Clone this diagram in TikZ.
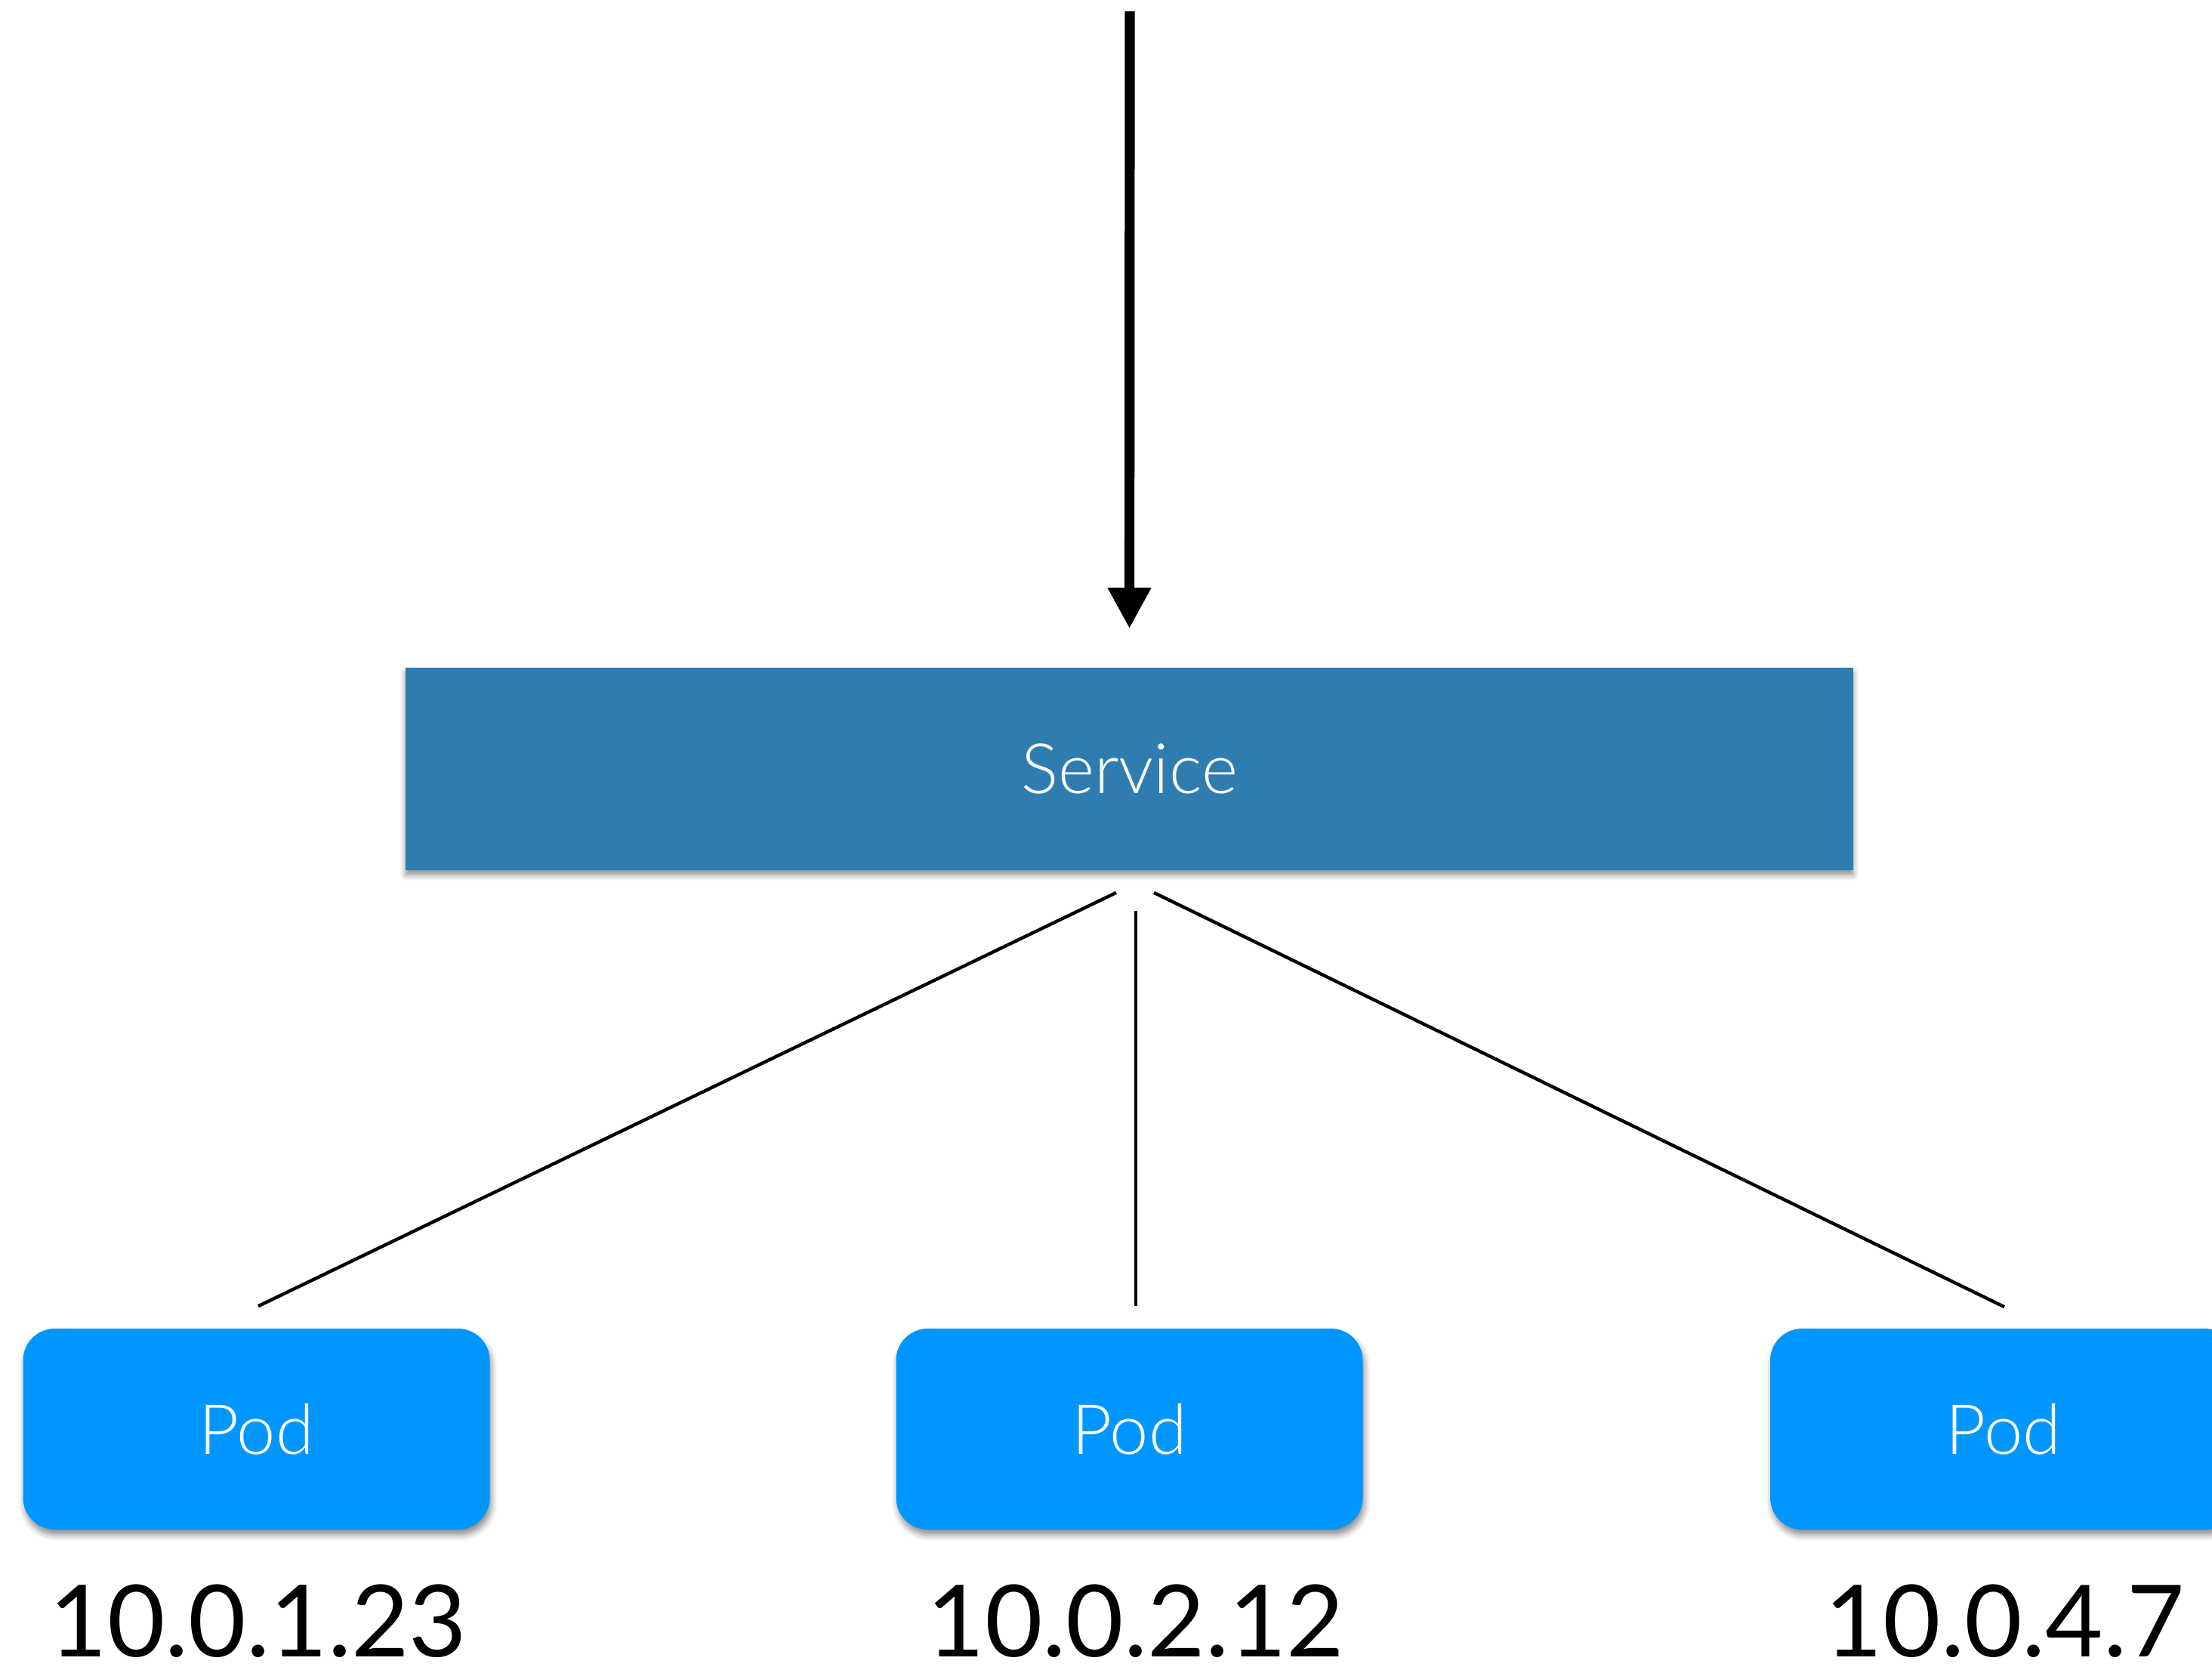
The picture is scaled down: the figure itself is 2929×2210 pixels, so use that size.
\documentclass[tikz,border=0pt]{standalone}
\usepackage{fontspec}
\setmainfont{Lato}
\newfontfamily\lightfont{Lato}[UprightFont={* Light}]
\usetikzlibrary{arrows.meta,shadows.blur,calc}
\definecolor{svcblue}{HTML}{2F7DB0}
\definecolor{podblue}{HTML}{0096FF}
\tikzset{
  svcbox/.style={fill=svcblue, draw=none, inner sep=0pt,
    minimum width=479.25pt, minimum height=67pt,
    text=white, font=\lightfont\fontsize{23pt}{23pt}\selectfont,
    blur shadow={shadow xshift=0pt, shadow yshift=-1.6pt, shadow blur radius=1.8pt, shadow opacity=45}},
  podbox/.style={fill=podblue, draw=none, inner sep=0pt, rounded corners=10.5pt,
    minimum width=154.5pt, minimum height=66.5pt,
    text=white, font=\lightfont\fontsize{23pt}{23pt}\selectfont,
    blur shadow={shadow xshift=0.6pt, shadow yshift=-1.8pt, shadow blur radius=2pt, shadow opacity=45}},
  iplabel/.style={inner sep=0pt, anchor=base, text depth=0pt, text=black,
    font=\fontsize{33pt}{33pt}\selectfont},
  link/.style={draw=black, line width=1.1pt},
  feed/.style={draw=black, line width=3.3pt, -{Triangle[width=13.5pt,length=13.5pt]}}
}
\begin{document}
\begin{tikzpicture}[x=0.25pt,y=-0.25pt]
  % page frame
  \useasboundingbox (0,0) rectangle (2929,2210);

  % service and pods
  \node[svcbox] (svc) at (1495.5,1018) {Service};
  \node[podbox] (p1) at (339.5,1892) {Pod};
  \node[podbox] (p2) at (1495.5,1892) {Pod};
  \node[podbox] (p3) at (2653,1892) {Pod};

  % addresses
  \node[iplabel] (ip1) at (342,2193) {10.0.1.23};
  \node[iplabel] (ip2) at (1504,2193) {10.0.2.12};
  \node[iplabel] (ip3) at (2655,2193) {10.0.4.7};

  % incoming traffic
  \coordinate (src) at (1496,15);
  \draw[feed] (src) -- ($(svc.north)+(0,-51)$);

  % fan-out to pods
  \coordinate (s1) at ($(svc.south)+(-17.5,29)$);
  \coordinate (s2) at ($(svc.south)+(8.5,53)$);
  \coordinate (s3) at ($(svc.south)+(32.5,29)$);
  \coordinate (e1) at ($(p1.north)+(2.5,-29)$);
  \coordinate (e2) at ($(p2.north)+(8.5,-29)$);
  \coordinate (e3) at ($(p3.north)+(1,-28)$);
  \draw[link] (s1) -- (e1);
  \draw[link] (s2) -- (e2);
  \draw[link] (s3) -- (e3);
\end{tikzpicture}
\end{document}
